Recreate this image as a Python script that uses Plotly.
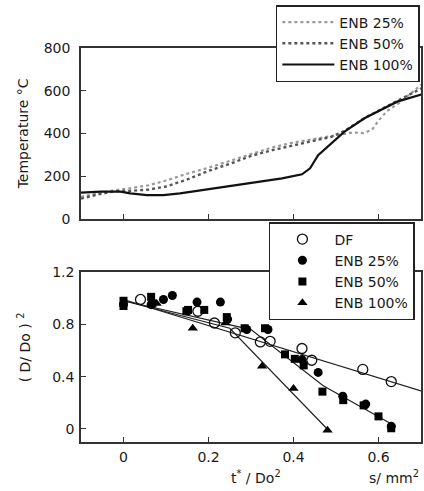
import plotly.graph_objects as go

# ---------------- data: top panel (temperature) ----------------
x_t25 = [-0.1, -0.06, -0.02, 0.02, 0.06, 0.10, 0.15, 0.20, 0.25, 0.30, 0.35, 0.40, 0.45, 0.50, 0.54, 0.565, 0.585, 0.60, 0.62, 0.65, 0.68, 0.705]
T_25 = [104, 120, 135, 145, 158, 180, 212, 240, 272, 305, 335, 358, 375, 392, 405, 402, 418, 460, 505, 545, 595, 635]

x_t50 = [-0.1, -0.06, -0.02, 0.02, 0.06, 0.10, 0.15, 0.20, 0.25, 0.30, 0.35, 0.40, 0.45, 0.49, 0.52, 0.567, 0.605, 0.644, 0.705]
T_50 = [95, 115, 130, 132, 138, 152, 185, 225, 258, 295, 322, 345, 368, 385, 412, 472, 512, 552, 615]

x_t100 = [-0.1, -0.054, -0.007, 0.016, 0.055, 0.094, 0.133, 0.21, 0.288, 0.373, 0.42, 0.439, 0.458, 0.489, 0.52, 0.567, 0.605, 0.644, 0.705]
T_100 = [123, 128, 128, 120, 112, 112, 120, 143, 167, 190, 209, 237, 299, 354, 409, 471, 510, 549, 585]

# ---------------- data: bottom panel (D/Do)^2 ----------------
x_df = [0.04, 0.175, 0.214, 0.263, 0.322, 0.345, 0.42, 0.443, 0.563, 0.63]
y_df = [0.99, 0.90, 0.81, 0.735, 0.665, 0.67, 0.615, 0.525, 0.455, 0.362]

x_e25 = [0.0, 0.065, 0.094, 0.115, 0.173, 0.228, 0.245, 0.29, 0.34, 0.42, 0.458, 0.516, 0.57, 0.63]
y_e25 = [0.95, 0.95, 0.99, 1.02, 0.97, 0.97, 0.84, 0.76, 0.76, 0.53, 0.432, 0.25, 0.19, 0.02]

x_e50 = [0.0, 0.0, 0.065, 0.068, 0.148, 0.152, 0.19, 0.243, 0.285, 0.333, 0.38, 0.403, 0.424, 0.468, 0.517, 0.565, 0.60, 0.63]
y_e50 = [0.98, 0.94, 1.01, 0.96, 0.90, 0.91, 0.91, 0.855, 0.77, 0.77, 0.57, 0.536, 0.486, 0.285, 0.22, 0.18, 0.096, 0.005]

x_e100 = [0.078, 0.163, 0.24, 0.326, 0.40, 0.48]
y_e100 = [0.96, 0.77, 0.81, 0.48, 0.31, -0.01]

# fitted lines
x_fit_df = [0.0, 0.7]
y_fit_df = [0.99, 0.29]
x_fit_50 = [0.0, 0.30, 0.47, 0.64]
y_fit_50 = [0.98, 0.76, 0.33, 0.02]
x_fit_100 = [0.0, 0.25, 0.485]
y_fit_100 = [0.98, 0.77, -0.02]

x_ticks = [0, 0.2, 0.4, 0.6]
x_ticklabels = ["0", "0.2", "0.4", "0.6"]
top_yticks = [0, 200, 400, 600, 800]
bot_yticks = [0, 0.4, 0.8, 1.2]
bot_yticklabels = ["0", "0.4", "0.8", "1.2"]

FONT = "DejaVu Sans, Liberation Sans, Arial, sans-serif"
TXT = "#1a1a1a"
W, H = 424, 491
L, R, T, B = 81, 1, 48, 49
ph = H - T - B  # 394
pw = W - L - R

def py(img_y):
    return (H - B - img_y) / ph

def px(img_x):
    return (img_x - L) / pw

fig = go.Figure()

# top panel lines
fig.add_trace(go.Scatter(x=x_t25, y=T_25, mode="lines", name="ENB 25%",
                         line=dict(color="#9a9a9a", width=2.2, dash="dot"),
                         xaxis="x", yaxis="y", legend="legend"))
fig.add_trace(go.Scatter(x=x_t50, y=T_50, mode="lines", name="ENB 50%",
                         line=dict(color="#555555", width=2.4, dash="dot"),
                         xaxis="x", yaxis="y", legend="legend"))
fig.add_trace(go.Scatter(x=x_t100, y=T_100, mode="lines", name="ENB 100%",
                         line=dict(color="#111111", width=2.2),
                         xaxis="x", yaxis="y", legend="legend"))

# bottom panel fitted lines
for xs, ys in [(x_fit_df, y_fit_df), (x_fit_50, y_fit_50), (x_fit_100, y_fit_100)]:
    fig.add_trace(go.Scatter(x=xs, y=ys, mode="lines", showlegend=False,
                             line=dict(color="#222222", width=1.2),
                             xaxis="x2", yaxis="y2", hoverinfo="skip"))

# bottom panel markers
fig.add_trace(go.Scatter(x=x_df, y=y_df, mode="markers", name="DF",
                         marker=dict(symbol="circle-open", size=10, color="#111111",
                                     line=dict(width=1.3, color="#111111")),
                         xaxis="x2", yaxis="y2", legend="legend2"))
fig.add_trace(go.Scatter(x=x_e25, y=y_e25, mode="markers", name="ENB 25%",
                         marker=dict(symbol="circle", size=9, color="#000000"),
                         xaxis="x2", yaxis="y2", legend="legend2"))
fig.add_trace(go.Scatter(x=x_e50, y=y_e50, mode="markers", name="ENB 50%",
                         marker=dict(symbol="square", size=8, color="#000000"),
                         xaxis="x2", yaxis="y2", legend="legend2"))
fig.add_trace(go.Scatter(x=x_e100, y=y_e100, mode="markers", name="ENB 100%",
                         marker=dict(symbol="triangle-up", size=9, color="#000000"),
                         xaxis="x2", yaxis="y2", legend="legend2"))

axis_common = dict(showline=True, mirror=True, linecolor="#333333", linewidth=1.5,
                   showgrid=False, zeroline=False, ticks="inside", ticklen=5,
                   tickwidth=1.2, tickcolor="#333333",
                   tickfont=dict(family=FONT, size=14, color=TXT))

top_dom = [py(219), 1.0]
bot_dom = [0.0, py(272)]

fig.update_layout(
    width=W, height=H,
    margin=dict(l=L, r=R, t=T, b=B),
    paper_bgcolor="white", plot_bgcolor="white",
    font=dict(family=FONT, size=14, color=TXT),
    xaxis=dict(domain=[0, 1], range=[-0.1, 0.7], tickvals=x_ticks, showticklabels=False,
               anchor="y", **axis_common),
    yaxis=dict(domain=top_dom, range=[0, 800], tickvals=top_yticks,
               ticklabelstandoff=6, anchor="x", **axis_common),
    xaxis2=dict(domain=[0, 1], range=[-0.1, 0.7], tickvals=x_ticks, ticktext=x_ticklabels,
                anchor="y2", ticklabelstandoff=1, **axis_common),
    yaxis2=dict(domain=bot_dom, range=[-0.1, 1.2], tickvals=bot_yticks, ticktext=bot_yticklabels,
                ticklabelstandoff=2, anchor="x2", **axis_common),
    legend=dict(x=px(277), y=py(5), xanchor="left", yanchor="top",
                bgcolor="white", bordercolor="#222222", borderwidth=1.5,
                font=dict(family=FONT, size=14, color=TXT),
                tracegroupgap=0, itemwidth=52),
    legend2=dict(x=px(270), y=py(222), xanchor="left", yanchor="top",
                 bgcolor="white", bordercolor="#222222", borderwidth=1.5,
                 font=dict(family=FONT, size=14, color=TXT),
                 tracegroupgap=0, itemwidth=54),
    showlegend=True,
)

fig.add_annotation(text="Temperature °C", xref="paper", yref="paper",
                   x=px(23), y=py(134), textangle=-90, showarrow=False,
                   xanchor="center", yanchor="middle",
                   font=dict(family=FONT, size=14, color=TXT))
fig.add_annotation(text="( D/ Do ) <sup>2</sup>", xref="paper", yref="paper",
                   x=px(24), y=py(347), textangle=-90, showarrow=False,
                   xanchor="center", yanchor="middle",
                   font=dict(family=FONT, size=14, color=TXT))
fig.add_annotation(text="t<sup>*</sup> / Do<sup>2</sup>", xref="paper", yref="paper",
                   x=px(257), y=py(477), showarrow=False,
                   xanchor="center", yanchor="middle",
                   font=dict(family=FONT, size=14, color=TXT))
fig.add_annotation(text="s/ mm<sup>2</sup>", xref="paper", yref="paper",
                   x=px(423), y=py(477), showarrow=False,
                   xanchor="right", yanchor="middle",
                   font=dict(family=FONT, size=14, color=TXT))

fig.write_html("out.html",
               config={"displayModeBar": False},
               post_script="document.body.style.margin='0';document.body.style.padding='0';document.body.style.overflow='hidden';")
